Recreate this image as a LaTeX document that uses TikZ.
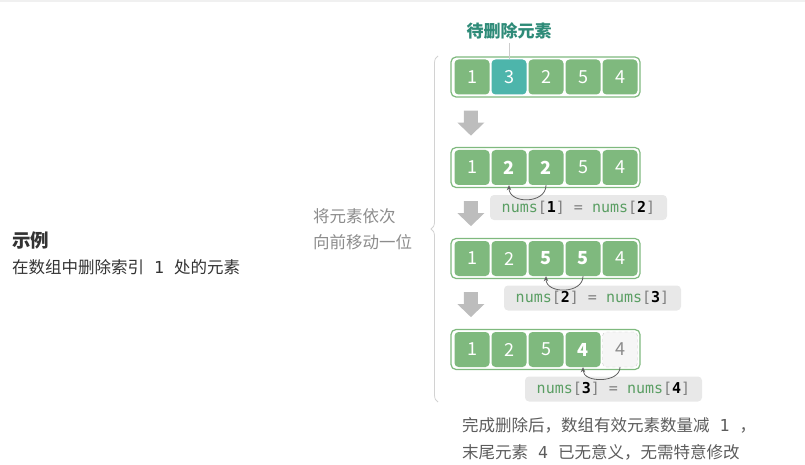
\documentclass[tikz,border=0pt]{standalone}
\usepackage{fontspec}
\setmainfont{Noto Sans CJK SC}
\setmonofont{DejaVu Sans Mono}
\usetikzlibrary{arrows.meta,positioning,calc,decorations.pathreplacing}

\definecolor{cellgreen}{HTML}{7FB97E}
\definecolor{cellteal}{HTML}{4DB5AB}
\definecolor{tagteal}{HTML}{2E8B78}
\definecolor{codegreen}{HTML}{5A9E63}
\definecolor{textgray}{HTML}{5C5C5C}
\definecolor{hintgray}{HTML}{8C8C8C}
\definecolor{downgray}{HTML}{BDBDBD}
\definecolor{codebg}{HTML}{E8E8E8}

\newcommand{\idx}[1]{{\color{gray}[}\textbf{#1}{\color{gray}]}}
\newcommand{\assign}[2]{{\color{codegreen}nums}\idx{#1} {\color{gray}=} {\color{codegreen}nums}\idx{#2}}

\begin{document}
\begin{tikzpicture}[x=1pt, y=1pt,
  cell/.style={fill=cellgreen, text=white, rounded corners=4pt, minimum width=35pt, minimum height=35pt, inner sep=0pt, font=\fontsize{18}{18}\selectfont},
  hot/.style={cell, fill=cellteal},
  moved/.style={cell, font=\fontsize{18}{18}\selectfont\bfseries},
  gone/.style={cell, fill=gray!7, draw=gray!40, dashed, text=gray!90},
  arrbox/.style={draw=cellgreen, line width=1.2pt, rounded corners=5pt, fill=white, minimum width=189pt, minimum height=40pt},
  eqbox/.style={fill=codebg, rounded corners=4pt, minimum height=25pt, minimum width=177pt, inner sep=0pt, font=\ttfamily\fontsize{15}{15}\selectfont},
  sidenote/.style={inner sep=0pt, align=left, font=\fontsize{16.5}{26}\selectfont},
  movearc/.style={-{Stealth[length=5pt,width=4.5pt]}, draw=gray!75!black, line width=0.8pt}]
  \useasboundingbox (0,0) rectangle (805,-465);
  \fill[gray!12] (0,0) rectangle (805,-2);

  % left: caption
  \node[anchor=west, inner sep=0pt, text=black!80, font=\fontsize{18.5}{18.5}\selectfont\bfseries] (title) at (12,-240) {示例};
  \node[anchor=west, inner sep=0pt, text=black!80, font=\fontsize{16.5}{16.5}\selectfont] (sub) at (12,-267) {在数组中删除索引\texttt{\ 1\ }处的元素};
  \node[sidenote, anchor=west, text=hintgray] (hint) at (313,-229.5) {将元素依次\\向前移动一位};
  \draw[gray!35, line width=0.8pt, decorate, decoration={brace, amplitude=7pt}] (438,-402) -- (438,-56);

  % the four states of the array
  \node[arrbox] (row1) at (545.5,-77) {};
  \foreach \v/\s [count=\c] in {1/cell,3/hot,2/cell,5/cell,4/cell}
    \node[\s] (r1c\c) at ({472+37*(\c-1)},-77) {\v};
  \node[arrbox] (row2) at (545.5,-167.5) {};
  \foreach \v/\s [count=\c] in {1/cell,2/moved,2/moved,5/cell,4/cell}
    \node[\s] (r2c\c) at ({472+37*(\c-1)},-167.5) {\v};
  \node[arrbox] (row3) at (545.5,-258.5) {};
  \foreach \v/\s [count=\c] in {1/cell,2/cell,5/moved,5/moved,4/cell}
    \node[\s] (r3c\c) at ({472+37*(\c-1)},-258.5) {\v};
  \node[arrbox] (row4) at (545.5,-349.5) {};
  \foreach \v/\s [count=\c] in {1/cell,2/cell,5/cell,4/moved,4/gone}
    \node[\s] (r4c\c) at ({472+37*(\c-1)},-349.5) {\v};

  \node[text=tagteal, font=\fontsize{17}{17}\selectfont\bfseries] (tag) at (509,-31) {待删除元素};
  \draw[gray!40, line width=0.8pt] (tag.south) -- (r1c2.north);

  % down arrows
  \foreach \r in {1,2,3}
    \fill[downgray] ($(row\r.south west)+(20.5,-13)$) ++(-7,0) -- ++(14,0) -- ++(0,-12) -- ++(6.5,0) -- ++(-13.5,-13) -- ++(-13.5,13) -- ++(6.5,0) -- cycle;

  \node[eqbox] (eq1) at (578.5,-207.5) {\assign{1}{2}};
  \node[eqbox] (eq2) at (592.5,-298) {\assign{2}{3}};
  \node[eqbox] (eq3) at (613.5,-389) {\assign{3}{4}};

  \draw[movearc] (r2c3.south) .. controls +(0,-19) and +(0,-19) .. (r2c2.south);
  \draw[movearc] (r3c4.south) .. controls +(0,-18) and +(0,-18) .. (r3c3.south);
  \draw[movearc] (r4c5.south) .. controls +(0,-16) and +(0,-16) .. (r4c4.south);

  \node[sidenote, anchor=west, text=textgray] (end1) at (462,-425) {完成删除后，数组有效元素数量减\texttt{\ 1\ }，};
  \node[sidenote, anchor=west, text=textgray] (end2) at (462,-452) {末尾元素\texttt{\ 4\ }已无意义，无需特意修改};
\end{tikzpicture}
\end{document}
